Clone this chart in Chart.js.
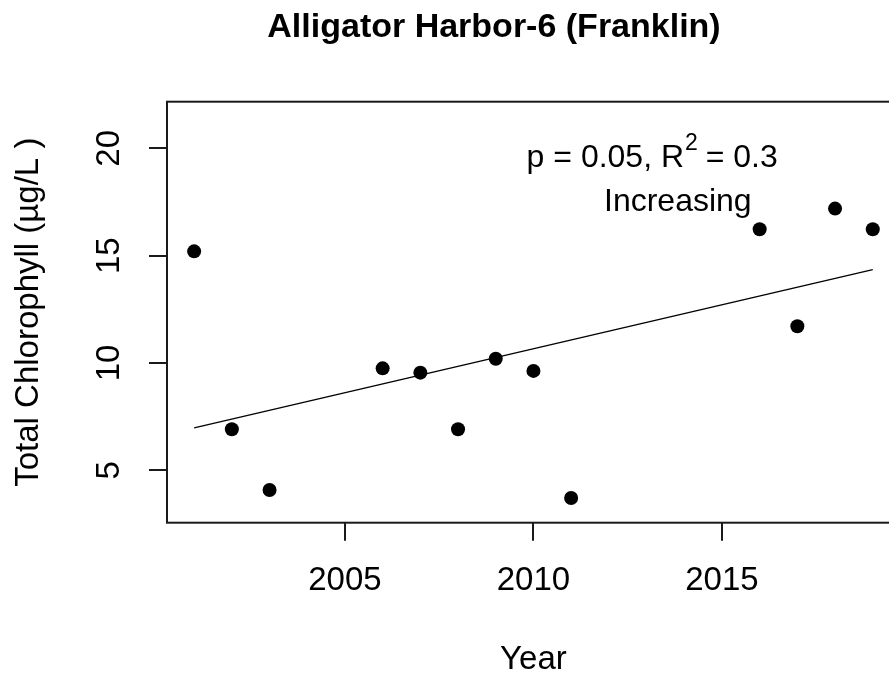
<!DOCTYPE html>
<html><head><meta charset="utf-8">
<script src="https://cdn.jsdelivr.net/npm/chart.js@4/dist/chart.umd.min.js"></script>
<style>
html,body{margin:0;padding:0;background:#fff;overflow:hidden;width:889px;height:677px;}
#wrap{position:absolute;left:0;top:0;width:910px;height:677px;}
</style></head><body>
<div id="wrap"><canvas id="c" width="910" height="677"></canvas></div>
<script>
// ---- data ----
const years = [2001, 2002, 2003, 2006, 2007, 2008, 2009, 2010, 2011, 2016, 2017, 2018, 2019];
const chlorophyll = [15.2, 6.91, 4.08, 9.75, 9.55, 6.91, 10.2, 9.63, 3.71, 16.23, 11.71, 17.19, 16.23];
const trendYears = [2001, 2019];
const trendValues = [6.98, 14.35];
const xTicks = [2005, 2010, 2015];
const yTicks = [5, 10, 15, 20];
const xRange = [2000.28, 2019.72];
const yRange = [2.56, 22.17];
const titleText = 'Alligator Harbor-6 (Franklin)';
const xLabel = 'Year';
const yLabel = 'Total Chlorophyll (µg/L )';
const statParts = ['p = 0.05, R', '2', ' = 0.3'];
const statAnchor = [2013.15, 19.12];
const trendText = 'Increasing';
const trendAnchor = [2013.83, 17.09];

const FONT = "'Liberation Sans', Arial, Helvetica, sans-serif";
Chart.defaults.font.family = FONT;
Chart.defaults.color = '#000';

const boxPlugin = {
  id: 'box',
  afterDraw(chart) {
    const {ctx, chartArea: a} = chart;
    ctx.save();
    ctx.strokeStyle = '#1a1a1a';
    ctx.lineWidth = 2;
    ctx.strokeRect(a.left, a.top, a.right - a.left, a.bottom - a.top);
    ctx.restore();
  }
};

const textPlugin = {
  id: 'texts',
  afterDraw(chart) {
    const {ctx} = chart;
    const xs = chart.scales.x, ys = chart.scales.y;
    ctx.save();
    ctx.fillStyle = '#000';
    ctx.textBaseline = 'alphabetic';
    // title
    ctx.font = 'bold 34px ' + FONT;
    ctx.textAlign = 'center';
    ctx.fillText(titleText, 494, 37);
    // stats line with superscript
    const big = '32px ' + FONT, small = '23px ' + FONT;
    ctx.font = big; const w1 = ctx.measureText(statParts[0]).width;
    const w3 = ctx.measureText(statParts[2]).width;
    ctx.font = small; const w2 = ctx.measureText(statParts[1]).width;
    const total = w1 + w2 + w3;
    const cx = xs.getPixelForValue(statAnchor[0]);
    const by = ys.getPixelForValue(statAnchor[1]);
    let sx = cx - total / 2;
    ctx.textAlign = 'left';
    ctx.font = big; ctx.fillText(statParts[0], sx, by);
    ctx.font = small; ctx.fillText(statParts[1], sx + w1 + 1, by - 17);
    ctx.font = big; ctx.fillText(statParts[2], sx + w1 + w2, by);
    // Increasing
    ctx.textAlign = 'center';
    ctx.font = big;
    ctx.fillText(trendText, xs.getPixelForValue(trendAnchor[0]), ys.getPixelForValue(trendAnchor[1]));
    ctx.restore();
  }
};

new Chart(document.getElementById('c'), {
  type: 'scatter',
  data: {
    datasets: [
      {
        type: 'line',
        data: trendYears.map((x, i) => ({x, y: trendValues[i]})),
        borderColor: '#000', borderWidth: 1.4, pointRadius: 0, fill: false, tension: 0, order: 2
      },
      {
        data: years.map((x, i) => ({x, y: chlorophyll[i]})),
        backgroundColor: '#000', borderColor: '#000', borderWidth: 0,
        pointRadius: 7, pointHoverRadius: 7, order: 1
      }
    ]
  },
  options: {
    responsive: false, animation: false, devicePixelRatio: 1, events: [],
    layout: {padding: {left: 0, right: 10.1, top: 101.7, bottom: 0}},
    plugins: {legend: {display: false}, tooltip: {enabled: false}, title: {display: false}},
    scales: {
      x: {
        type: 'linear', position: 'bottom', min: xRange[0], max: xRange[1],
        afterBuildTicks: s => { s.ticks = xTicks.map(v => ({value: v})); },
        afterFit: s => { s.height = 154.3; },
        grid: {display: true, drawOnChartArea: false, drawTicks: true, tickLength: 18, color: '#1a1a1a', lineWidth: 2},
        border: {display: false},
        ticks: {font: {size: 33}, color: '#000', padding: 20, maxRotation: 0, minRotation: 0, autoSkip: false,
                callback: v => String(v)},
        title: {display: true, text: xLabel, font: {size: 33, lineHeight: 1}, color: '#000', padding: {top: 0, bottom: 0.3}}
      },
      y: {
        type: 'linear', position: 'left', min: yRange[0], max: yRange[1],
        afterBuildTicks: s => { s.ticks = yTicks.map(v => ({value: v})); },
        afterFit: s => { s.width = 167; },
        grid: {display: true, drawOnChartArea: false, drawTicks: true, tickLength: 18, color: '#1a1a1a', lineWidth: 2},
        border: {display: false},
        ticks: {font: {size: 33}, color: '#000', padding: 20.6, minRotation: 90, maxRotation: 90, crossAlign: 'center',
                autoSkip: false, callback: v => String(v)},
        title: {display: true, text: yLabel, font: {size: 33, lineHeight: 1}, color: '#000', padding: {top: 12, bottom: 0}}
      }
    }
  },
  plugins: [boxPlugin, textPlugin]
});
</script>
</body></html>
